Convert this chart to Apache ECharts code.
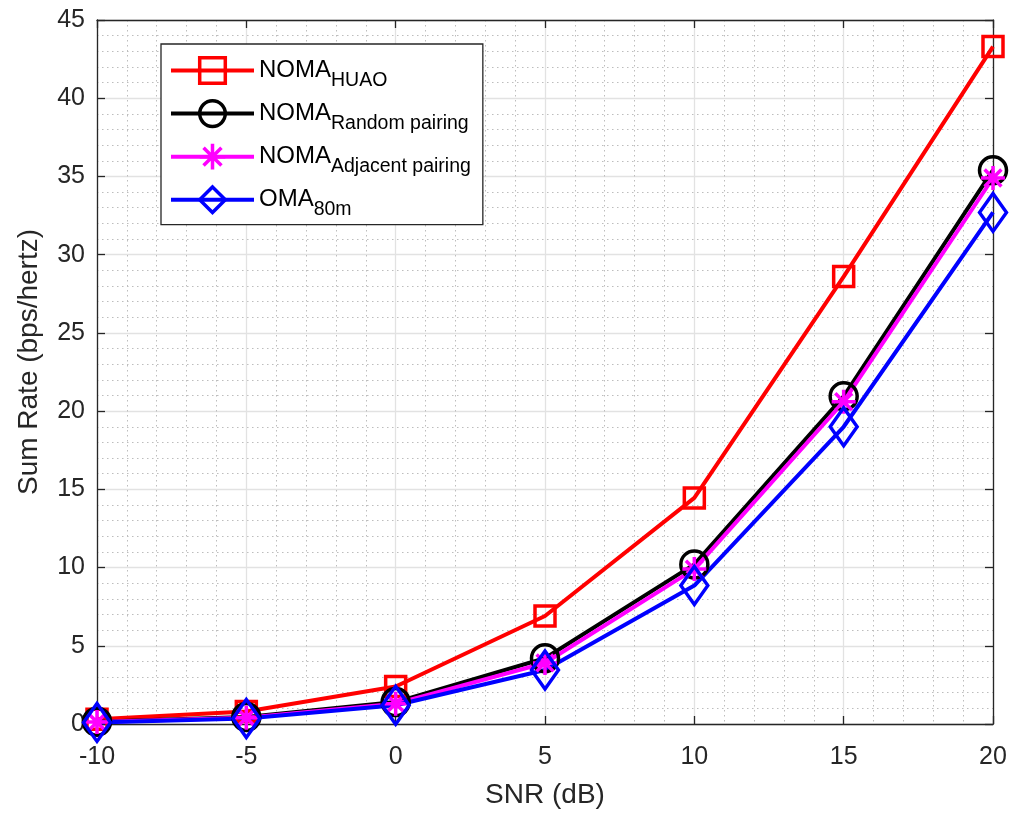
<!DOCTYPE html>
<html><head><meta charset="utf-8">
<script src="https://cdn.jsdelivr.net/npm/echarts@6/dist/echarts.min.js"></script>
<style>html,body{margin:0;padding:0;background:#fff}#c{width:1027px;height:814px}</style>
</head><body><div id="c"></div>
<script>
const snr = [-10, -5, 0, 5, 10, 15, 20];
const nomaHUAO = [0.3, 0.8, 2.4, 6.9, 14.45, 28.6, 43.3];
const nomaRandom = [0.15, 0.45, 1.4, 4.2, 10.2, 20.95, 35.4];
const nomaAdjacent = [0.12, 0.4, 1.3, 3.9, 9.9, 20.6, 34.9];
const oma80m = [0.1, 0.35, 1.2, 3.45, 8.85, 19.0, 32.7];
const seriesNames = ['NOMA_HUAO', 'NOMA_Random pairing', 'NOMA_Adjacent pairing', 'OMA_80m'];

const FONT = '"Liberation Sans", Arial, sans-serif';
const AX = '#262626';
const asterisk = 'path://M0,-10L0,10M-10,0L10,0M-7,-7L7,7M-7,7L7,-7';

function pairs(arr){ return snr.map((x,i)=>[x, arr[i]]); }
function mk(name, data, color, symbol, size){
  return {
    name, type:'line', data: pairs(data), symbol, symbolSize:size,
    lineStyle:{color, width:4}, color,
    itemStyle:{color:'rgba(0,0,0,0)', borderColor:color, borderWidth:3.5},
    emphasis:{disabled:true}, z: 3, clip:false
  };
}
const chart = echarts.init(document.getElementById('c'));
const line = {show:true, onZero:false, lineStyle:{color:AX, width:1.3}};
const tick = {show:true, inside:true, length:8, lineStyle:{color:AX, width:1.3}};
const minorGrid = {show:true, lineStyle:{color:'#bdbdbd', type:[1.5,3.5], width:1}};
const majorGrid = {show:true, lineStyle:{color:'#e2e2e2', width:1.3}};
chart.setOption({
  animation:false,
  textStyle:{fontFamily:FONT},
  grid:{left:97, right:34, top:20, bottom:88, show:false},
  xAxis:[
    {type:'value', min:-10, max:20, interval:5, name:'SNR (dB)', nameLocation:'middle', nameGap:57,
      nameTextStyle:{fontSize:28, color:AX, fontFamily:FONT},
      axisLabel:{fontSize:25, color:AX, margin:21, fontFamily:FONT},
      axisLine:line, axisTick:tick, minorTick:{show:false, splitNumber:5},
      splitLine:majorGrid, minorSplitLine:minorGrid},
    {type:'value', position:'top', min:-10, max:20, interval:5, axisLabel:{show:false},
      axisLine:line, axisTick:tick, splitLine:{show:false}}
  ],
  yAxis:[
    {type:'value', min:0, max:45, interval:5, name:'Sum Rate (bps/hertz)', nameLocation:'middle', nameGap:54,
      nameTextStyle:{fontSize:28, color:AX, fontFamily:FONT, padding:[0,0,0,20]},
      axisLabel:{fontSize:25, color:AX, margin:12, fontFamily:FONT},
      axisLine:line, axisTick:tick, minorTick:{show:false, splitNumber:5},
      splitLine:majorGrid, minorSplitLine:minorGrid},
    {type:'value', position:'right', min:0, max:45, interval:5, axisLabel:{show:false},
      axisLine:line, axisTick:tick, splitLine:{show:false}}
  ],
  legend:{
    left:161, top:44, orient:'vertical', itemWidth:83, itemHeight:32, itemGap:8.5,
    padding:[12,12,5,8],
    backgroundColor:'#fff', borderColor:AX, borderWidth:1.3,
    lineStyle:{width:4}, itemStyle:{borderWidth:3.5},
    data: seriesNames,
    formatter: n => { const [a,b] = n.split('_'); return '{m|'+a+'}{s|'+b+'}'; },
    textStyle:{ rich:{
      m:{fontSize:24, color:'#000', fontFamily:FONT},
      s:{fontSize:19.5, color:'#000', fontFamily:FONT, padding:[20,0,0,0]}
    }}
  },
  series:[
    mk(seriesNames[0], nomaHUAO, '#ff0000', 'rect', 20),
    mk(seriesNames[1], nomaRandom, '#000000', 'circle', 27),
    mk(seriesNames[2], nomaAdjacent, '#ff00ff', asterisk, 24),
    mk(seriesNames[3], oma80m, '#0000ff', 'diamond', [27, 38])
  ]
});
</script></body></html>
